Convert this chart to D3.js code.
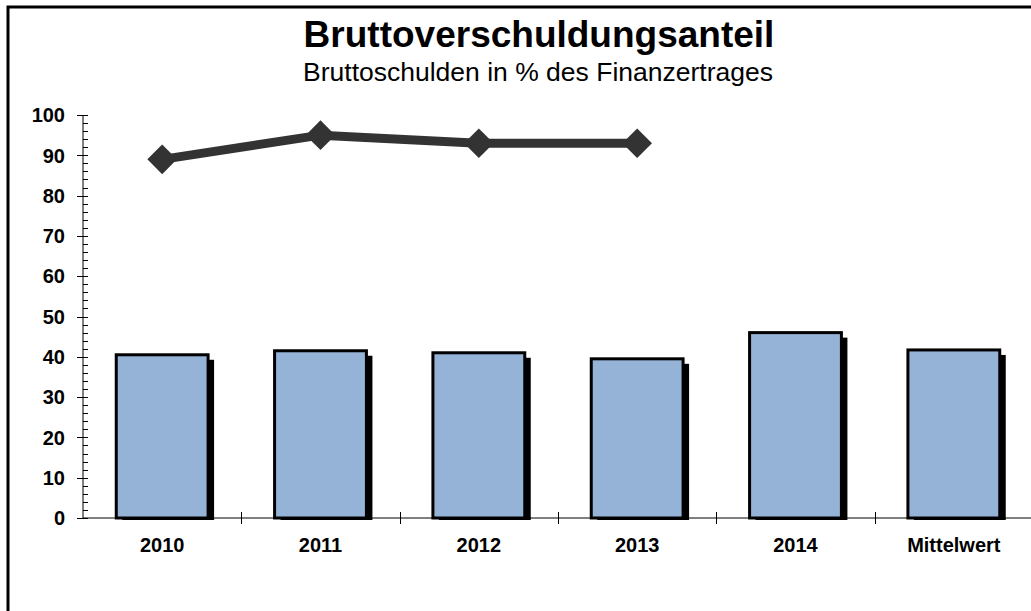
<!DOCTYPE html>
<html>
<head>
<meta charset="utf-8">
<script src="https://cdn.jsdelivr.net/npm/d3@7"></script>
<style>
  body { margin: 0; background: #fff; }
  text { font-family: "Liberation Sans", Arial, sans-serif; }
</style>
</head>
<body>
<div id="chart"></div>
<script>
'use strict';

// values
const categories = ["2010", "2011", "2012", "2013", "2014", "Mittelwert"];
const barValues = [40.5, 41.5, 41, 39.5, 46, 41.7];
const lineCategories = ["2010", "2011", "2012", "2013"];
const lineValues = [89, 95, 93, 93];
const yTicks = [0, 10, 20, 30, 40, 50, 60, 70, 80, 90, 100];

const width = 1031, height = 611;
const margin = { top: 115, right: -2, bottom: 93, left: 83 };

const svg = d3.select("#chart").append("svg")
	.attr("width", width)
	.attr("height", height);

// outer frame (runs off the right and bottom edge)
svg.append("rect")
	.attr("x", 8).attr("y", 7)
	.attr("width", width + 20).attr("height", height + 20)
	.attr("fill", "none")
	.attr("stroke", "#000")
	.attr("stroke-width", 3);

svg.append("text")
	.attr("x", 539).attr("y", 47)
	.attr("text-anchor", "middle")
	.attr("font-size", 37)
	.attr("font-weight", "bold")
	.text("Bruttoverschuldungsanteil");

svg.append("text")
	.attr("x", 538).attr("y", 81)
	.attr("text-anchor", "middle")
	.attr("font-size", 26.5)
	.text("Bruttoschulden in % des Finanzertrages");

const x = d3.scaleBand()
	.domain(categories)
	.range([margin.left, width - margin.right])
	.paddingInner(0.42)
	.paddingOuter(0.21);

const band = d3.scaleBand()
	.domain(categories)
	.range([margin.left, width - margin.right]);

const y = d3.scaleLinear()
	.domain([0, 100])
	.range([height - margin.bottom, margin.top]);

// bars: shadow first, then the bar itself
const bars = svg.append("g").attr("class", "bars");

bars.selectAll("rect.shadow")
	.data(barValues)
	.join("rect")
		.attr("class", "shadow")
		.attr("x", (d, i) => x(categories[i]) + 6)
		.attr("y", d => y(d) + 5)
		.attr("width", x.bandwidth())
		.attr("height", d => y(0) - y(d) - 3)
		.attr("fill", "#000");

bars.selectAll("rect.bar")
	.data(barValues)
	.join("rect")
		.attr("class", "bar")
		.attr("x", (d, i) => x(categories[i]))
		.attr("y", d => y(d))
		.attr("width", x.bandwidth())
		.attr("height", d => y(0) - y(d))
		.attr("fill", "#95b3d7")
		.attr("stroke", "#000")
		.attr("stroke-width", 3);

// y axis: major ticks crossing the line, minor ticks on the right
const yAxis = svg.append("g")
	.attr("class", "y-axis")
	.attr("transform", `translate(${margin.left},0)`);

yAxis.append("line")
	.attr("y1", y(0)).attr("y2", y(100))
	.attr("stroke", "#000");

yAxis.selectAll("line.minor")
	.data(d3.range(0, 100, 2).filter(v => v % 10 !== 0))
	.join("line")
		.attr("class", "minor")
		.attr("x1", 0).attr("x2", 5)
		.attr("y1", d => Math.round(y(d)) + 0.5)
		.attr("y2", d => Math.round(y(d)) + 0.5)
		.attr("stroke", "#000");

yAxis.selectAll("line.major")
	.data(yTicks)
	.join("line")
		.attr("class", "major")
		.attr("x1", -6).attr("x2", 5)
		.attr("y1", d => Math.round(y(d)) + 0.5)
		.attr("y2", d => Math.round(y(d)) + 0.5)
		.attr("stroke", "#000");

yAxis.selectAll("text")
	.data(yTicks)
	.join("text")
		.attr("x", -18)
		.attr("y", d => y(d))
		.attr("dy", "0.36em")
		.attr("text-anchor", "end")
		.attr("font-size", 20)
		.attr("font-weight", "bold")
		.text(d => d);

// x axis
const xAxis = svg.append("g")
	.attr("class", "x-axis")
	.attr("transform", `translate(0,${y(0)})`);

xAxis.append("line")
	.attr("x1", margin.left).attr("x2", width)
	.attr("stroke", "#000");

xAxis.selectAll("line.tick")
	.data(categories.slice(1))
	.join("line")
		.attr("class", "tick")
		.attr("x1", d => Math.round(band(d)) + 0.5)
		.attr("x2", d => Math.round(band(d)) + 0.5)
		.attr("y1", -6).attr("y2", 6)
		.attr("stroke", "#000");

xAxis.selectAll("text")
	.data(categories)
	.join("text")
		.attr("x", d => band(d) + band.bandwidth() / 2)
		.attr("y", 34)
		.attr("text-anchor", "middle")
		.attr("font-size", 20)
		.attr("font-weight", "bold")
		.text(d => d);

// line series with diamond markers
const cx = c => band(c) + band.bandwidth() / 2;

svg.append("path")
	.datum(lineValues)
	.attr("fill", "none")
	.attr("stroke", "#333333")
	.attr("stroke-width", 9)
	.attr("d", d3.line()
		.x((d, i) => cx(lineCategories[i]))
		.y(d => y(d)));

svg.append("g")
	.selectAll("path")
	.data(lineValues)
	.join("path")
		.attr("transform", (d, i) => `translate(${cx(lineCategories[i])},${y(d)})`)
		.attr("d", d3.symbol(d3.symbolDiamond2, 560))
		.attr("fill", "#333333");
</script>
</body>
</html>
